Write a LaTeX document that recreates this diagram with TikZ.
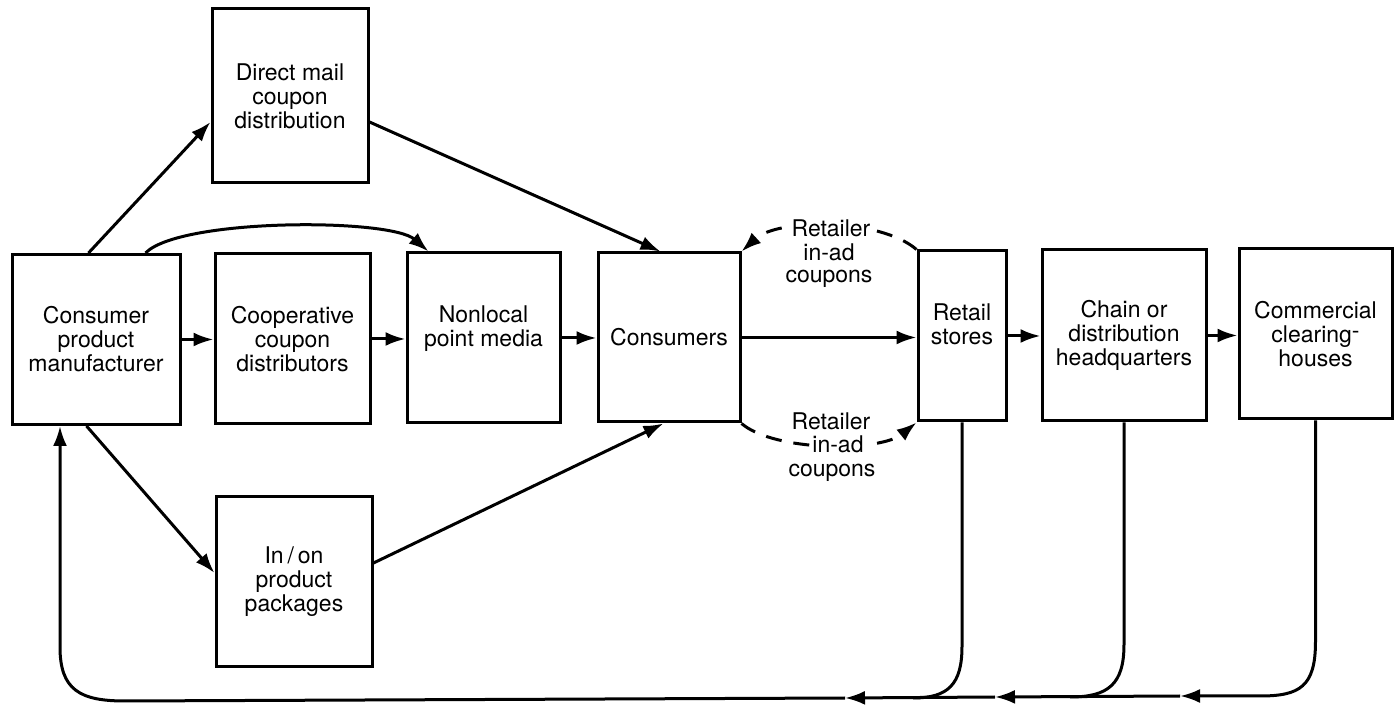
\documentclass[tikz,border=0pt]{standalone}
\usepackage{fontspec}
\setmainfont{TeX Gyre Heros}
\usetikzlibrary{arrows.meta,calc}
\begin{document}
\begin{tikzpicture}[x=0.5pt,y=-0.5pt,
  box/.style={draw, line width=1.5pt, inner sep=0pt, align=center, font=\fontsize{11.5}{12}\selectfont},
  conn/.style={line width=1.5pt},
  arr/.style={line width=1.5pt, -{Latex[length=10pt,width=7pt]}},
  dashconn/.style={line width=1.5pt, dash pattern=on 8pt off 6pt, -{Latex[length=10pt,width=7pt]}},
  lab/.style={font=\fontsize{11.5}{12}\selectfont, fill=white, inner sep=1pt, anchor=base}
]
\useasboundingbox (0,0) rectangle (1399,705);

% boxes
\node[box, minimum width=84pt, minimum height=85pt] (man) at (96,339.5) {Consumer\\product\\manufacturer};
\node[box, minimum width=78pt, minimum height=87pt] (dm) at (290,96) {Direct mail\\coupon\\distribution};
\node[box, minimum width=77.5pt, minimum height=85pt] (coop) at (292.5,339) {Cooperative\\coupon\\distributors};
\node[box, minimum width=76.5pt, minimum height=85pt] (nonl) at (483.5,338) {Nonlocal\\point media\\\mbox{}};
\node[box, minimum width=71pt, minimum height=84.5pt] (cons) at (669,337.5) {Consumers};
\node[box, minimum width=78pt, minimum height=85pt] (inon) at (294,582) {In\,/\,on\\product\\packages};
\node[box, minimum width=44pt, minimum height=85pt] (ret) at (962,336) {Retail\\stores\\\mbox{}};
\node[box, minimum width=82pt, minimum height=85.5pt] (chain) at (1124,335.5) {Chain or\\distribution\\headquarters};
\node[box, minimum width=76.5pt, minimum height=85pt] (comm) at (1315.5,334) {Commercial\\clearing\raisebox{2pt}{-}\\houses};

% main flow
\draw[arr] (man.east) -- (man.east -| coop.west);
\draw[arr] (coop.east) -- (coop.east -| nonl.west);
\draw[arr] (nonl.east) -- (nonl.east -| cons.west);
\draw[arr] (cons.east) -- (cons.east -| ret.west);
\draw[arr] (ret.east) -- (ret.east -| chain.west);
\draw[arr] (chain.east) -- (chain.east -| comm.west);

% branches
\draw[arr] ([xshift=39pt]man.north west) -- ([yshift=-13pt]dm.west);
\draw[arr] ([xshift=67.5pt]man.north west) .. controls (180,218) and (390,218) .. ([xshift=11.5pt]nonl.north west);
\draw[arr] ([xshift=38pt]man.south west) -- ([yshift=4.5pt]inon.west);
\draw[arr] ([yshift=-13pt]dm.east) -- ([xshift=32pt]cons.north west);
\draw[arr] ([yshift=9.5pt]inon.east) -- ([xshift=33.5pt]cons.south west);

% retailer in-ad coupons
\draw[dashconn] (ret.north west) .. controls (880,218) and (778,218) .. (cons.north east);
\draw[dashconn] (cons.south east) .. controls (775,452) and (880,452) .. (ret.south west);
\node[lab] (t1) at (831,237) {Retailer};
\node[lab] (t2) at (829,261) {in-ad};
\node[lab] (t3) at (829,283) {coupons};
\node[lab] (b1) at (831,430) {Retailer};
\node[lab] (b2) at (838,453) {in-ad\hspace{6pt}};
\node[lab] (b3) at (832,477) {coupons};

% return flow
\coordinate (j3) at (1260,696);
\coordinate (m3) at (1180,696);
\coordinate (j2) at (1070,697);
\coordinate (m2) at (995,697);
\coordinate (j1) at (913,698);
\coordinate (m1) at (845,698);
\coordinate (mret) at ([xshift=-18pt]man.south);
\draw[arr] (comm.south) -- ++(0,221) .. controls +(0,45) and +(40,0) .. (j3) -- (m3);
\draw[conn] (chain.south) -- ++(0,222) .. controls +(0,40) and +(38,0) .. (j2);
\draw[conn] (ret.south) -- ++(0,224) .. controls +(0,38) and +(35,0) .. (j1);
\draw[arr] (m3) -- (m2);
\draw[arr] (m2) -- (m1);
\draw[arr] (m1) -- (125,701) .. controls (80,701) and (60,690) .. (60,647) -- (mret);
\end{tikzpicture}
\end{document}
